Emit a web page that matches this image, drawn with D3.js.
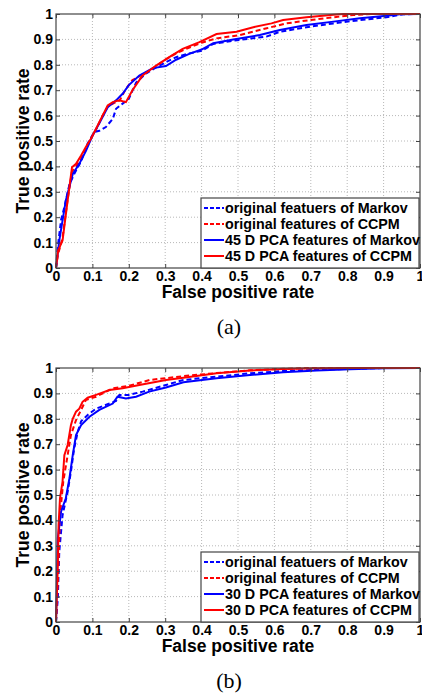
<!DOCTYPE html>
<html>
<head>
<meta charset="utf-8">
<script src="https://cdn.jsdelivr.net/npm/d3@7"></script>
<style>
  body { margin: 0; background: #fff; }
  svg { display: block; }
</style>
</head>
<body>
<div id="chart"></div>
<script>
const ticks = [0, 0.1, 0.2, 0.3, 0.4, 0.5, 0.6, 0.7, 0.8, 0.9, 1]
const tickLabels = ["0", "0.1", "0.2", "0.3", "0.4", "0.5", "0.6", "0.7", "0.8", "0.9", "1"]

// panel (a): [false positive rate, true positive rate]
const aOrigMarkov = [[0,0],[0.005,0.085],[0.014,0.19],[0.023,0.24],[0.037,0.33],[0.05,0.37],[0.069,0.42],[0.087,0.49],[0.105,0.535],[0.119,0.54],[0.137,0.555],[0.156,0.587],[0.165,0.627],[0.183,0.647],[0.2,0.666],[0.22,0.73],[0.247,0.765],[0.275,0.79],[0.302,0.81],[0.33,0.83],[0.366,0.845],[0.4,0.855],[0.432,0.882],[0.487,0.895],[0.578,0.911],[0.615,0.93],[0.688,0.948],[0.762,0.963],[0.835,0.976],[0.908,0.987],[0.954,0.999],[1,1]]
const aOrigCCPM = [[0,0],[0.005,0.05],[0.018,0.12],[0.032,0.27],[0.044,0.38],[0.055,0.4],[0.069,0.43],[0.082,0.47],[0.096,0.51],[0.11,0.545],[0.128,0.6],[0.142,0.635],[0.16,0.65],[0.175,0.66],[0.19,0.7],[0.21,0.74],[0.23,0.755],[0.26,0.78],[0.3,0.82],[0.33,0.845],[0.37,0.87],[0.4,0.887],[0.441,0.904],[0.505,0.917],[0.579,0.944],[0.633,0.963],[0.697,0.976],[0.762,0.987],[0.817,0.996],[0.871,1],[1,1]]
const aPcaMarkov = [[0,0],[0.009,0.108],[0.027,0.266],[0.046,0.37],[0.064,0.41],[0.082,0.46],[0.1,0.52],[0.119,0.57],[0.142,0.633],[0.165,0.66],[0.183,0.686],[0.2,0.72],[0.229,0.758],[0.266,0.787],[0.302,0.795],[0.33,0.82],[0.366,0.843],[0.4,0.86],[0.432,0.885],[0.487,0.9],[0.56,0.917],[0.615,0.937],[0.688,0.957],[0.762,0.97],[0.835,0.983],[0.908,0.993],[0.945,0.999],[1,1]]
const aPcaCCPM = [[0,0],[0.006,0.07],[0.018,0.108],[0.032,0.266],[0.044,0.397],[0.055,0.41],[0.069,0.443],[0.082,0.476],[0.096,0.509],[0.11,0.548],[0.128,0.6],[0.142,0.64],[0.156,0.653],[0.174,0.66],[0.192,0.653],[0.21,0.7],[0.238,0.758],[0.275,0.797],[0.311,0.83],[0.348,0.863],[0.394,0.889],[0.441,0.921],[0.496,0.93],[0.542,0.948],[0.592,0.963],[0.624,0.976],[0.688,0.987],[0.762,0.997],[0.789,1],[1,1]]

// panel (b)
const bOrigMarkov = [[0,0],[0.005,0.093],[0.009,0.277],[0.018,0.42],[0.032,0.513],[0.041,0.592],[0.05,0.684],[0.06,0.75],[0.069,0.79],[0.087,0.815],[0.11,0.84],[0.147,0.86],[0.165,0.87],[0.174,0.894],[0.2,0.894],[0.238,0.907],[0.302,0.933],[0.35,0.953],[0.441,0.966],[0.533,0.979],[0.624,0.988],[0.716,0.993],[0.808,0.997],[0.9,1],[1,1]]
const bOrigCCPM = [[0,0],[0.005,0.16],[0.011,0.42],[0.02,0.553],[0.032,0.657],[0.041,0.736],[0.055,0.795],[0.069,0.835],[0.082,0.874],[0.11,0.887],[0.156,0.92],[0.2,0.93],[0.258,0.953],[0.302,0.96],[0.35,0.968],[0.441,0.98],[0.533,0.991],[0.624,0.997],[0.7,1],[1,1]]
const bPcaMarkov = [[0,0],[0.005,0.33],[0.014,0.435],[0.027,0.487],[0.037,0.566],[0.046,0.657],[0.055,0.736],[0.069,0.775],[0.092,0.808],[0.119,0.835],[0.156,0.86],[0.169,0.887],[0.192,0.88],[0.22,0.887],[0.256,0.907],[0.302,0.923],[0.35,0.944],[0.441,0.96],[0.533,0.972],[0.624,0.983],[0.716,0.99],[0.808,0.995],[0.9,0.999],[1,1]]
const bPcaCCPM = [[0,0],[0.005,0.224],[0.007,0.38],[0.011,0.487],[0.018,0.553],[0.023,0.657],[0.032,0.697],[0.041,0.775],[0.046,0.8],[0.055,0.828],[0.064,0.84],[0.073,0.867],[0.087,0.883],[0.11,0.894],[0.147,0.913],[0.183,0.92],[0.229,0.933],[0.302,0.953],[0.35,0.962],[0.441,0.979],[0.533,0.99],[0.624,0.996],[0.716,0.999],[0.8,1],[1,1]]

const legendA = ["original featuers of Markov", "original features of CCPM", "45 D PCA features of Markov", "45 D PCA features of CCPM"]
const legendB = ["original featuers of Markov", "original features of CCPM", "30 D PCA features of Markov", "30 D PCA features of CCPM"]

const width = 422, height = 700
const sans = "'Liberation Sans', Arial, sans-serif"
const serif = "'Liberation Serif', 'Times New Roman', serif"
const axisColor = "#444"

const svg = d3.select("#chart").append("svg")
  .attr("width", width)
  .attr("height", height)

function drawPanel(top, bottom, series, labels, caption) {
  const x = d3.scaleLinear().domain([0, 1]).range([56, 420])
  const y = d3.scaleLinear().domain([0, 1]).range([bottom, top])
  const g = svg.append("g")

  // dotted grid
  g.append("g").selectAll("line")
    .data(ticks.slice(1, -1))
    .join("line")
      .attr("x1", d => x(d)).attr("x2", d => x(d))
      .attr("y1", y(0)).attr("y2", y(1))
      .attr("stroke", "#b8b8b8")
      .attr("stroke-dasharray", "1,2")
  g.append("g").selectAll("line")
    .data(ticks.slice(1, -1))
    .join("line")
      .attr("y1", d => y(d)).attr("y2", d => y(d))
      .attr("x1", x(0)).attr("x2", x(1))
      .attr("stroke", "#b8b8b8")
      .attr("stroke-dasharray", "1,2")

  // curves
  const line = d3.line().x(d => x(d[0])).y(d => y(d[1]))
  g.append("g").selectAll("path")
    .data(series)
    .join("path")
      .attr("d", d => line(d.values))
      .attr("fill", "none")
      .attr("stroke", d => d.color)
      .attr("stroke-width", 2)
      .attr("stroke-dasharray", d => d.dash ? "5,3" : null)

  // frame and inward ticks (MATLAB style)
  g.append("rect")
    .attr("x", x(0)).attr("y", y(1))
    .attr("width", x(1) - x(0)).attr("height", y(0) - y(1))
    .attr("fill", "none")
    .attr("stroke", axisColor)
    .attr("stroke-width", 1.2)

  const axB = d3.axisBottom(x).tickValues(ticks).tickSizeInner(-4).tickSizeOuter(0)
    .tickFormat((d, i) => tickLabels[i]).tickPadding(3)
  const axL = d3.axisLeft(y).tickValues(ticks).tickSizeInner(-4).tickSizeOuter(0)
    .tickFormat((d, i) => tickLabels[i]).tickPadding(3)
  const axT = d3.axisTop(x).tickValues(ticks).tickSizeInner(-4).tickSizeOuter(0).tickFormat("")
  const axR = d3.axisRight(y).tickValues(ticks).tickSizeInner(-4).tickSizeOuter(0).tickFormat("")

  const axes = [
    g.append("g").attr("transform", `translate(0,${y(0)})`).call(axB),
    g.append("g").attr("transform", `translate(${x(0)},0)`).call(axL),
    g.append("g").attr("transform", `translate(0,${y(1)})`).call(axT),
    g.append("g").attr("transform", `translate(${x(1)},0)`).call(axR)
  ]
  axes.forEach(a => {
    a.select(".domain").remove()
    a.selectAll("line").attr("stroke", axisColor)
    a.selectAll("text")
      .attr("font-family", sans)
      .attr("font-size", 14)
      .attr("font-weight", "bold")
      .attr("fill", "#000")
  })

  // axis titles
  g.append("text")
    .attr("x", (x(0) + x(1)) / 2)
    .attr("y", bottom + 30)
    .attr("text-anchor", "middle")
    .attr("font-family", sans)
    .attr("font-size", 17.5)
    .attr("font-weight", "bold")
    .text("False positive rate")
  g.append("text")
    .attr("transform", `translate(29,${(top + bottom) / 2}) rotate(-90)`)
    .attr("text-anchor", "middle")
    .attr("font-family", sans)
    .attr("font-size", 17.5)
    .attr("font-weight", "bold")
    .text("True positive rate")

  // legend
  const lx = 201, lw = 218, rowH = 16
  const ly = bottom - 70
  const leg = g.append("g")
  leg.append("rect")
    .attr("x", lx).attr("y", ly)
    .attr("width", lw).attr("height", bottom - ly)
    .attr("fill", "#fff")
    .attr("stroke", axisColor)
    .attr("stroke-width", 1.2)
  const rows = leg.selectAll("g")
    .data(series)
    .join("g")
      .attr("transform", (d, i) => `translate(${lx},${ly + 10 + i * rowH})`)
  rows.append("line")
    .attr("x1", 3).attr("x2", 23)
    .attr("stroke", d => d.color)
    .attr("stroke-width", 2)
    .attr("stroke-dasharray", d => d.dash ? "4,2" : null)
  rows.append("text")
    .attr("x", 24)
    .attr("dy", "0.35em")
    .attr("font-family", sans)
    .attr("font-size", 14.3)
    .attr("font-weight", "bold")
    .text((d, i) => labels[i])

  // caption
  g.append("text")
    .attr("x", 229)
    .attr("y", bottom + 66)
    .attr("text-anchor", "middle")
    .attr("font-family", serif)
    .attr("font-size", 22)
    .text(caption)
}

drawPanel(14, 268, [
  {values: aOrigMarkov, color: "#0000ff", dash: true},
  {values: aOrigCCPM, color: "#ff0000", dash: true},
  {values: aPcaMarkov, color: "#0000ff", dash: false},
  {values: aPcaCCPM, color: "#ff0000", dash: false}
], legendA, "(a)")

drawPanel(368, 622, [
  {values: bOrigMarkov, color: "#0000ff", dash: true},
  {values: bOrigCCPM, color: "#ff0000", dash: true},
  {values: bPcaMarkov, color: "#0000ff", dash: false},
  {values: bPcaCCPM, color: "#ff0000", dash: false}
], legendB, "(b)")
</script>
</body>
</html>
